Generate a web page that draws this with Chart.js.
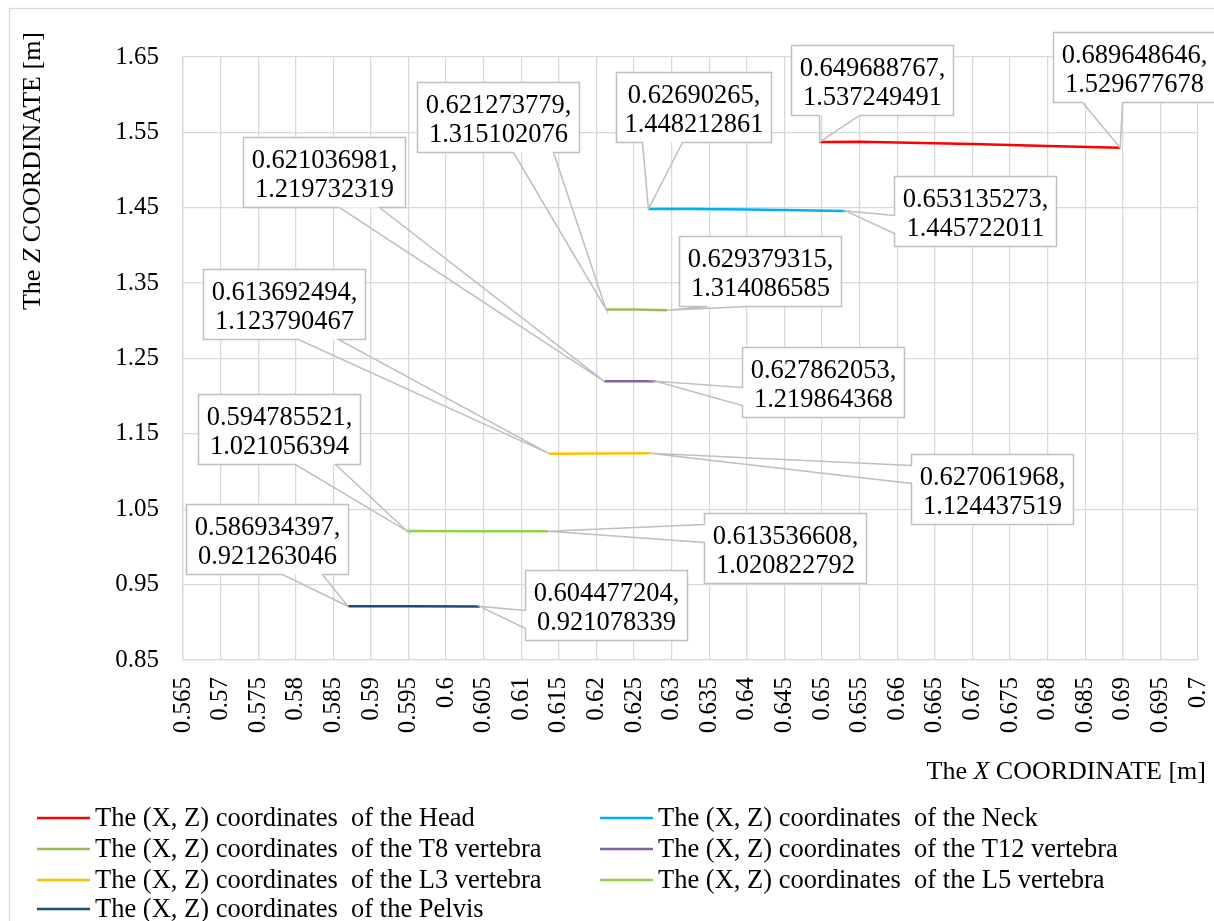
<!DOCTYPE html>
<html>
<head>
<meta charset="utf-8">
<style>
  html, body { margin: 0; padding: 0; background: #fff; }
  #wrap { width: 1214px; height: 921px; position: relative; }
</style>
<script src="https://cdn.jsdelivr.net/npm/chart.js@4.4.1/dist/chart.umd.min.js"></script>
</head>
<body>
<div id="wrap"><canvas id="c" width="1214" height="921"></canvas></div>
<script>
// ---------------- DATA ----------------
const seriesNames = [
  'The (X, Z) coordinates  of the Head',
  'The (X, Z) coordinates  of the Neck',
  'The (X, Z) coordinates  of the T8 vertebra',
  'The (X, Z) coordinates  of the T12 vertebra',
  'The (X, Z) coordinates  of the L3 vertebra',
  'The (X, Z) coordinates  of the L5 vertebra',
  'The (X, Z) coordinates  of the Pelvis'
];
const headX   = [0.649688767, 0.655, 0.66, 0.67, 0.68, 0.689648646];
const headZ   = [1.537249491, 1.5375, 1.5365, 1.5345, 1.532, 1.529677678];
const neckX   = [0.62690265, 0.633, 0.64, 0.647, 0.653135273];
const neckZ   = [1.448212861, 1.4484, 1.4478, 1.4468, 1.445722011];
const t8X     = [0.621273779, 0.625, 0.629379315];
const t8Z     = [1.315102076, 1.3149, 1.314086585];
const t12X    = [0.621036981, 0.6245, 0.627862053];
const t12Z    = [1.219732319, 1.2198, 1.219864368];
const l3X     = [0.613692494, 0.62, 0.627061968];
const l3Z     = [1.123790467, 1.1241, 1.124437519];
const l5X     = [0.594785521, 0.603, 0.613536608];
const l5Z     = [1.021056394, 1.0209, 1.020822792];
const pelvisX = [0.586934397, 0.595, 0.604477204];
const pelvisZ = [0.921263046, 0.9212, 0.921078339];

const xTicks = [0.565,0.57,0.575,0.58,0.585,0.59,0.595,0.6,0.605,0.61,0.615,0.62,0.625,0.63,
                0.635,0.64,0.645,0.65,0.655,0.66,0.665,0.67,0.675,0.68,0.685,0.69,0.695,0.7];
const xTickLabels = ['0.565','0.57','0.575','0.58','0.585','0.59','0.595','0.6','0.605','0.61','0.615',
                '0.62','0.625','0.63','0.635','0.64','0.645','0.65','0.655','0.66','0.665','0.67',
                '0.675','0.68','0.685','0.69','0.695','0.7'];
const yTicks = [0.85,0.95,1.05,1.15,1.25,1.35,1.45,1.55,1.65];
const yTickLabels = ['0.85','0.95','1.05','1.15','1.25','1.35','1.45','1.55','1.65'];

// ---------------- STYLE ----------------
const colors = ['#FF0000','#00B0F0','#9BBB59','#8064A2','#FFC000','#92D050','#1F497D'];
const FONT = '"Liberation Serif", "Times New Roman", serif';
// callout layout: box offset from point (dx, dy), wedge side, wedge base offset along that side
const calloutLayout = [
  [{dx:-29, dy:-97, side:'bottom', base:28}, {dx:-67, dy:-116, side:'bottom', base:29}],
  [{dx:-32, dy:-137, side:'bottom', base:26}, {dx:48, dy:-35, side:'left', base:39}],
  [{dx:-189, dy:-227, side:'bottom', base:96}, {dx:12, dy:-74, side:'bottom', base:28}],
  [{dx:-361, dy:-244, side:'bottom', base:96}, {dx:86, dy:-34, side:'left', base:40}],
  [{dx:-346, dy:-185, side:'bottom', base:95}, {dx:261, dy:1, side:'left', base:11}],
  [{dx:-209, dy:-137, side:'bottom', base:97}, {dx:156, dy:-18, side:'left', base:11}],
  [{dx:-162, dy:-102, side:'bottom', base:96}, {dx:45, dy:-36, side:'left', base:40}]
];

const xs = [headX, neckX, t8X, t12X, l3X, l5X, pelvisX];
const zs = [headZ, neckZ, t8Z, t12Z, l3Z, l5Z, pelvisZ];

const datasets = seriesNames.map((name, i) => ({
  label: name,
  data: xs[i].map((x, k) => ({x: x, y: zs[i][k]})),
  borderColor: colors[i],
  backgroundColor: colors[i],
  borderWidth: 2.5,
  pointRadius: 0,
  showLine: true,
  tension: 0
}));

const frame = {
  id: 'frame',
  beforeDraw(chart) {
    const ctx = chart.ctx;
    ctx.save();
    ctx.fillStyle = '#fff';
    ctx.fillRect(0, 0, chart.width, chart.height);
    ctx.strokeStyle = '#D9D9D9';
    ctx.lineWidth = 1.3;
    ctx.strokeRect(9.5, 8.5, chart.width + 10, chart.height + 10);
    ctx.restore();
  }
};

const callouts = {
  id: 'callouts',
  afterDatasetsDraw(chart) {
    const ctx = chart.ctx;
    const xs_ = chart.scales.x, ys_ = chart.scales.y;
    ctx.save();
    ctx.font = '26.5px ' + FONT;
    chart.data.datasets.forEach((ds, i) => {
      const pts = [ds.data[0], ds.data[ds.data.length - 1]];
      pts.forEach((p, j) => {
        const L = calloutLayout[i][j];
        const px = xs_.getPixelForValue(p.x), py = ys_.getPixelForValue(p.y);
        const l1 = String(p.x) + ',', l2 = String(p.y);
        const w = Math.round(Math.max(ctx.measureText(l1).width, ctx.measureText(l2).width) + 16);
        const h = 70;
        const bx = Math.round(px + L.dx) + 0.5, by = Math.round(py + L.dy) + 0.5;
        ctx.fillStyle = '#fff';
        ctx.fillRect(bx, by, w, h);
        ctx.strokeStyle = '#BFBFBF';
        ctx.lineWidth = 1.5;
        ctx.beginPath();
        if (L.side === 'bottom') {
          const b1 = bx + L.base, b2 = bx + L.base + 40;
          ctx.moveTo(bx, by); ctx.lineTo(bx + w, by); ctx.lineTo(bx + w, by + h);
          ctx.lineTo(b2, by + h); ctx.lineTo(px, py); ctx.lineTo(b1, by + h);
          ctx.lineTo(bx, by + h); ctx.closePath();
        } else {
          const b1 = by + L.base, b2 = by + L.base + 18;
          ctx.moveTo(bx, by); ctx.lineTo(bx + w, by); ctx.lineTo(bx + w, by + h);
          ctx.lineTo(bx, by + h); ctx.lineTo(bx, b2); ctx.lineTo(px, py);
          ctx.lineTo(bx, b1); ctx.closePath();
        }
        ctx.stroke();
        ctx.fillStyle = '#000';
        ctx.textAlign = 'center';
        ctx.textBaseline = 'alphabetic';
        ctx.fillText(l1, bx + w / 2, by + 30);
        ctx.fillText(l2, bx + w / 2, by + 59);
      });
    });
    ctx.restore();
  }
};

function drawMixed(ctx, parts, x, y, align) {
  let total = 0;
  const widths = parts.map(([t, it]) => {
    ctx.font = (it ? 'italic ' : '') + '26px ' + FONT;
    const w = ctx.measureText(t).width; total += w; return w;
  });
  let cx = align === 'right' ? x - total : (align === 'center' ? x - total / 2 : x);
  ctx.textAlign = 'left';
  parts.forEach(([t, it], k) => {
    ctx.font = (it ? 'italic ' : '') + '26px ' + FONT;
    ctx.fillText(t, cx, y);
    cx += widths[k];
  });
}

const titlesLegend = {
  id: 'titlesLegend',
  afterDraw(chart) {
    const ctx = chart.ctx;
    ctx.save();
    ctx.fillStyle = '#000';
    ctx.textBaseline = 'alphabetic';
    drawMixed(ctx, [['The ', false], ['X', true], [' COORDINATE [m]', false]], 1206, 779, 'right');
    ctx.save();
    ctx.translate(40, 171);
    ctx.rotate(-Math.PI / 2);
    drawMixed(ctx, [['The ', false], ['Z', true], [' COORDINATE [m]', false]], 0, 0, 'center');
    ctx.restore();
    const rows = [818, 849, 880, 909];
    const cols = [37, 600];
    chart.data.datasets.forEach((ds, i) => {
      const r = Math.floor(i / 2), c = i % 2;
      const x0 = cols[c], y0 = rows[r];
      ctx.strokeStyle = ds.borderColor;
      ctx.lineWidth = 2.5;
      ctx.beginPath();
      ctx.moveTo(x0, y0); ctx.lineTo(x0 + 53, y0);
      ctx.stroke();
      ctx.font = '26.5px ' + FONT;
      ctx.textAlign = 'left';
      ctx.textBaseline = 'middle';
      ctx.fillStyle = '#000';
      ctx.fillText(ds.label, x0 + 58, y0 + 1);
    });
    ctx.restore();
  }
};

new Chart(document.getElementById('c'), {
  type: 'scatter',
  data: { datasets },
  options: {
    responsive: false,
    animation: false,
    layout: { padding: { top: 57, right: 16, bottom: 0, left: 0 } },
    plugins: { legend: { display: false }, tooltip: { enabled: false } },
    scales: {
      x: {
        type: 'linear',
        min: 0.565, max: 0.7,
        afterBuildTicks: s => { s.ticks = xTicks.map(v => ({value: v})); },
        afterFit: s => { s.height = 261; s.paddingLeft = 0; s.paddingRight = 0; },
        ticks: {
          autoSkip: false, minRotation: 90, maxRotation: 90, padding: 17,
          color: '#000', font: { family: FONT, size: 25 },
          callback: (v, i) => xTickLabels[i]
        },
        grid: { color: '#D9D9D9', lineWidth: 1.3, drawTicks: false },
        border: { color: '#D9D9D9', width: 1.3 }
      },
      y: {
        type: 'linear',
        min: 0.85, max: 1.65,
        afterBuildTicks: s => { s.ticks = yTicks.map(v => ({value: v})); },
        afterFit: s => { s.width = 183; s.paddingTop = 0; s.paddingBottom = 0; },
        ticks: {
          padding: 24, color: '#000', font: { family: FONT, size: 25 },
          callback: (v, i) => yTickLabels[i]
        },
        grid: { color: '#D9D9D9', lineWidth: 1.3, drawTicks: false },
        border: { color: '#D9D9D9', width: 1.3 }
      }
    }
  },
  plugins: [frame, callouts, titlesLegend]
});
</script>
</body>
</html>
